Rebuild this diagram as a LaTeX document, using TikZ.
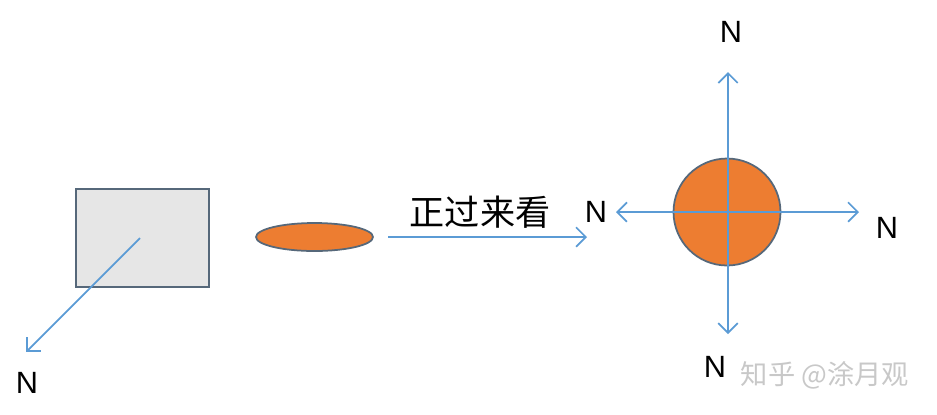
\documentclass[tikz,border=0pt]{standalone}
\usepackage{fontspec}
\setmainfont{Liberation Sans}
\newfontfamily\cjk{Noto Sans CJK SC}
\usetikzlibrary{arrows.meta,shapes.geometric}
\definecolor{arrowblue}{HTML}{5B9BD5}
\definecolor{shapeedge}{HTML}{56687A}
\definecolor{boxfill}{HTML}{E6E6E6}
\definecolor{orangefill}{HTML}{ED7D31}
\definecolor{markgray}{HTML}{C8C8C8}
\begin{document}
\begin{tikzpicture}[x=0.02cm,y=-0.02cm,
  vec/.style={draw=arrowblue,line width=1pt,-{Straight Barb[length=5.5pt,width=11pt]}},
  nlabel/.style={font=\fontsize{17.5}{17.5}\selectfont,inner sep=0pt},
  shapeline/.style={draw=shapeedge,line width=1pt,inner sep=0pt}]
\useasboundingbox (0,0) rectangle (937,414);
% left: rectangle with oblique arrow
\node[shapeline,fill=boxfill,minimum width=2.66cm,minimum height=1.96cm] (box) at (142.5,238) {};
\coordinate (boxc) at (140,238);
\coordinate (boxtip) at (26,352);
\draw[vec] (boxc) -- (boxtip);
\node[nlabel] (nbox) at (27,383) {N};
% middle: ellipse and arrow
\node[shapeline,ellipse,fill=orangefill,minimum width=2.34cm,minimum height=0.56cm] (ell) at (314.5,237) {};
\coordinate (mstart) at (388,237);
\coordinate (mend) at (587,237);
\draw[vec] (mstart) -- (mend);
\node[font=\cjk\fontsize{20}{20}\selectfont,inner sep=0pt] (txt) at (480,212) {正过来看};
% right: circle with four arrows
\node[shapeline,circle,fill=orangefill,minimum size=2.14cm] (disc) at (727,212) {};
\coordinate (dc) at (728,212);
\coordinate (tupp) at (728,72);
\coordinate (tlow) at (728,334);
\coordinate (tleft) at (616,212);
\coordinate (tright) at (859,212);
\draw[vec] (dc) -- (tupp);
\draw[vec] (dc) -- (tlow);
\draw[vec] (dc) -- (tleft);
\draw[vec] (dc) -- (tright);
\node[nlabel] (nup) at (731,32) {N};
\node[nlabel] (nlow) at (715,367) {N};
\node[nlabel] (nleft) at (596,212) {N};
\node[nlabel] (nright) at (887,228) {N};
% watermark
\node[font=\cjk\fontsize{15.5}{15.5}\selectfont,text=markgray,inner sep=0pt] (mark) at (825,375) {知乎 @涂月观};
\end{tikzpicture}
\end{document}
